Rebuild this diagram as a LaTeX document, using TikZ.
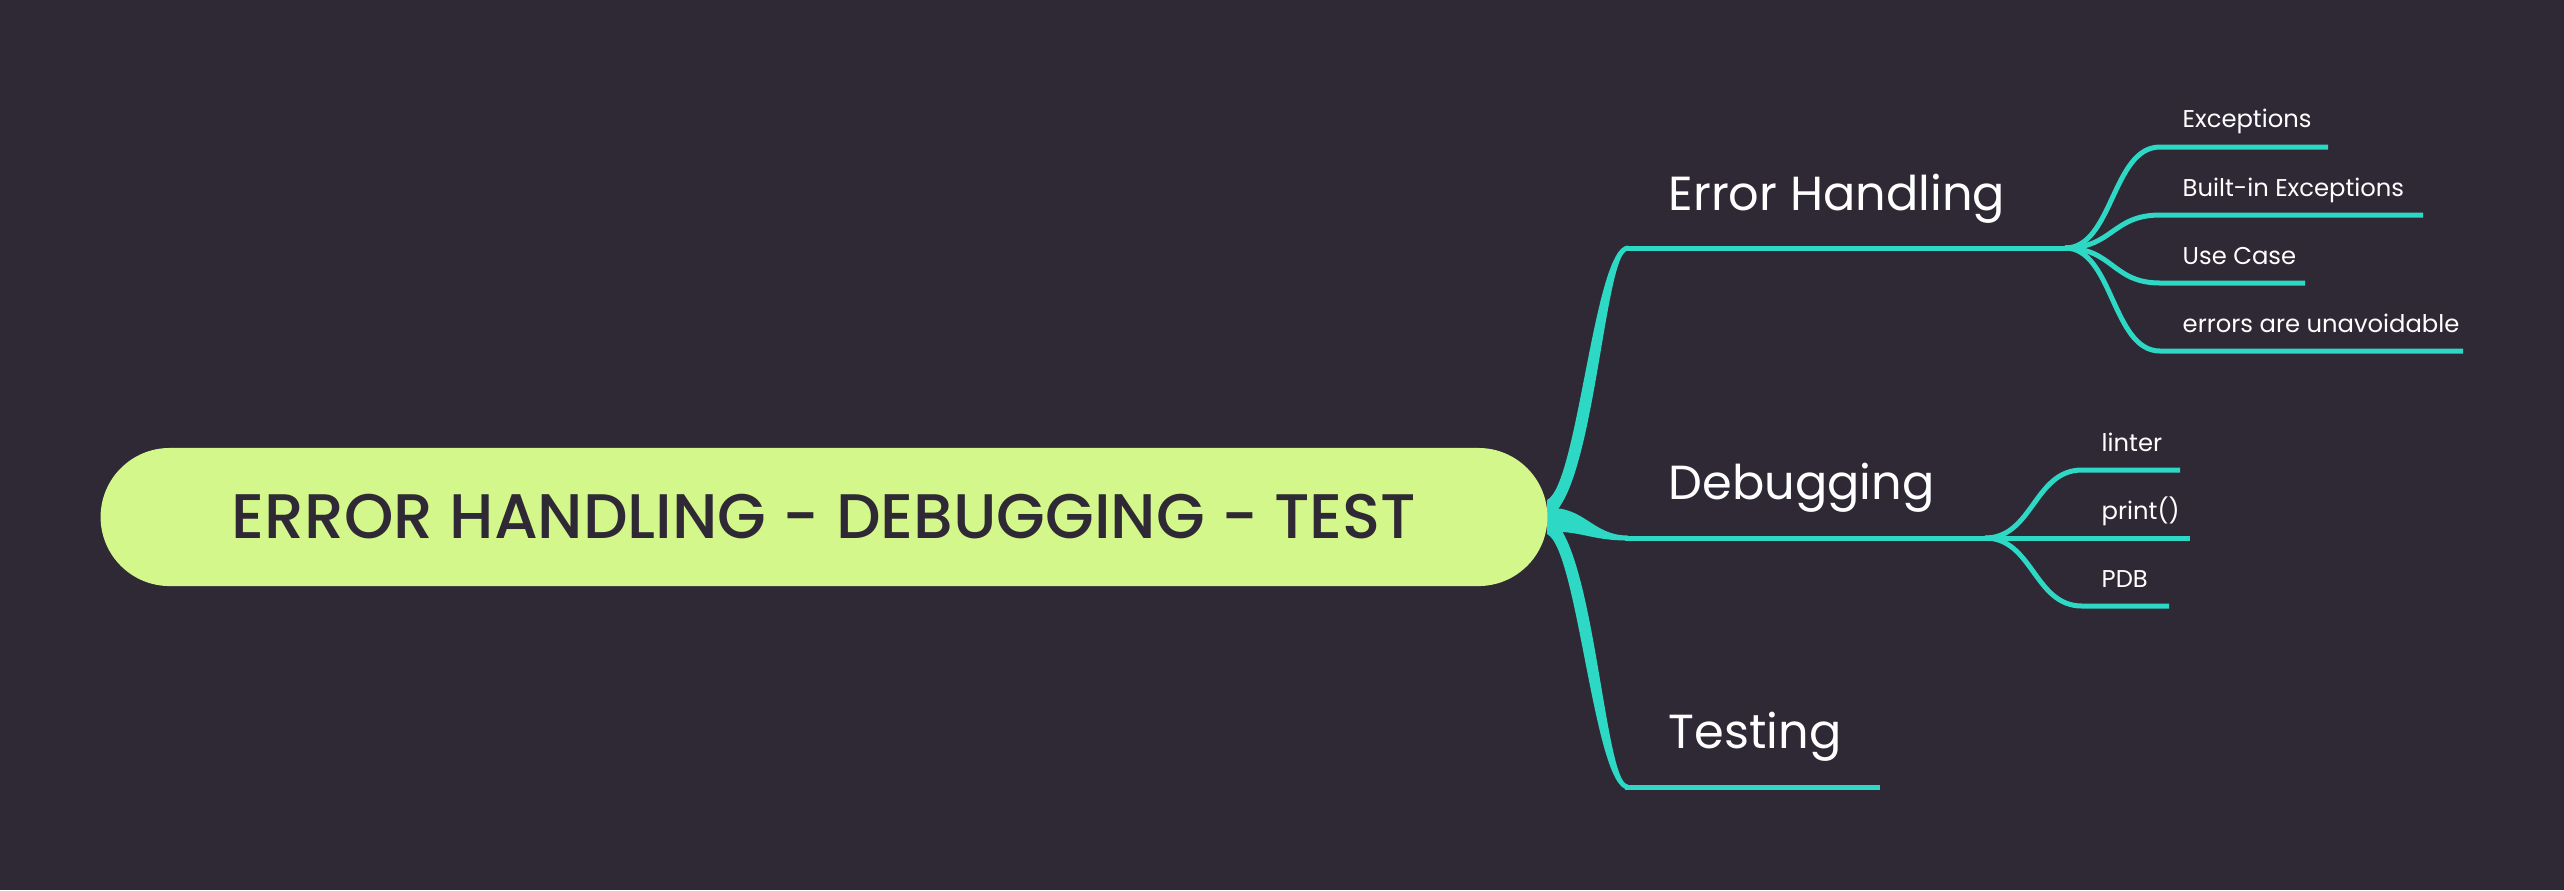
\documentclass[tikz,border=0pt]{standalone}
\usepackage{fontspec}
\setmainfont{Poppins}
\newfontfamily\rootfont{Poppins Medium}
\usetikzlibrary{shapes.misc, positioning, calc}

\definecolor{bgdark}{HTML}{2F2935}
\definecolor{rootfill}{HTML}{D3F78A}
\definecolor{branch}{HTML}{2DD9C4}

\tikzset{
  rootbox/.style={rounded rectangle, fill=rootfill, text=bgdark,
    minimum width=14.46cm, minimum height=1.38cm, inner sep=0pt,
    font=\rootfont\fontsize{17.9}{20}\selectfont},
  topic/.style={text=white, anchor=base west, inner sep=0pt,
    font=\fontsize{13.6}{16}\selectfont},
  subtopic/.style={text=white, anchor=base west, inner sep=0pt,
    font=\fontsize{6.9}{8}\selectfont},
  link/.style={draw=branch, line width=0.05cm},
  trunk/.style={fill=branch}
}

\begin{document}
\begin{tikzpicture}[x=0.01cm, y=-0.01cm]
% Background
\fill[bgdark] (0,0) rectangle (2564,890);
\useasboundingbox (0,0) rectangle (2564,890);

% Fork points
\coordinate (ehL) at (1625,248);
\coordinate (ehR) at (2065,248);
\coordinate (dbL) at (1625,538);
\coordinate (dbR) at (1985,538);
\coordinate (tsL) at (1625,787);
\coordinate (tsR) at (1880,787);

% Sub-branch lines
\coordinate (excL) at (2160,147);  \coordinate (excR) at (2328,147);
\coordinate (bieL) at (2160,215);  \coordinate (bieR) at (2423,215);
\coordinate (ucL)  at (2160,283);  \coordinate (ucR)  at (2305,283);
\coordinate (eauL) at (2160,351);  \coordinate (eauR) at (2463,351);
\coordinate (lntL) at (2082,470);  \coordinate (lntR) at (2180,470);
\coordinate (prtR) at (2190,538);
\coordinate (pdbL) at (2082,606);  \coordinate (pdbR) at (2169,606);

% Trunks from the root
\fill[trunk] (1547,500) .. controls (1578,485) and (1594,245.5) .. ($(ehL)+(3,-2.5)$)
  -- ($(ehL)+(3,2.5)$) .. controls (1604,250.5) and (1594,500) .. (1547,518) -- cycle;
\fill[trunk] (1547,508) .. controls (1585,506) and (1592,535.5) .. ($(dbL)+(3,-2.5)$)
  -- ($(dbL)+(3,2.5)$) .. controls (1590,540.5) and (1580,530) .. (1547,532) -- cycle;
\fill[trunk] (1547,534) .. controls (1578,549) and (1594,789.5) .. ($(tsL)+(3,2.5)$)
  -- ($(tsL)+(3,-2.5)$) .. controls (1604,784.5) and (1594,534) .. (1547,516) -- cycle;

% Main lines
\draw[link] (ehL) -- (ehR);
\draw[link] (dbL) -- (dbR);
\draw[link] (tsL) -- (tsR);

% Error Handling children
\foreach \c in {exc, bie, uc, eau}
  \draw[link] (ehR) .. controls +(48,0) and ($(\c L)+(-48,0)$) .. (\c L) -- (\c R);

% Debugging children
\foreach \c in {lnt, pdb}
  \draw[link] (dbR) .. controls +(48,0) and ($(\c L)+(-48,0)$) .. (\c L) -- (\c R);
\draw[link] (dbR) -- (prtR);

% Root
\node[rootbox] (root) at (824,517) {ERROR HANDLING - DEBUGGING - TEST};

% Labels
\node[topic] (eh)  at (1668,210) {Error Handling};
\node[topic] (dbg) at (1668,499) {Debugging};
\node[topic] (tst) at (1668,748) {Testing};

\node[subtopic] (exc) at (2182,127) {Exceptions};
\node[subtopic] (bie) at (2182,196) {Built-in Exceptions};
\node[subtopic] (uc)  at (2182,264) {Use Case};
\node[subtopic] (eau) at (2182,332) {errors are unavoidable};
\node[subtopic] (lnt) at (2101,451) {linter};
\node[subtopic] (prt) at (2101,519) {print()};
\node[subtopic] (pdb) at (2101,587) {PDB};
\end{tikzpicture}
\end{document}
